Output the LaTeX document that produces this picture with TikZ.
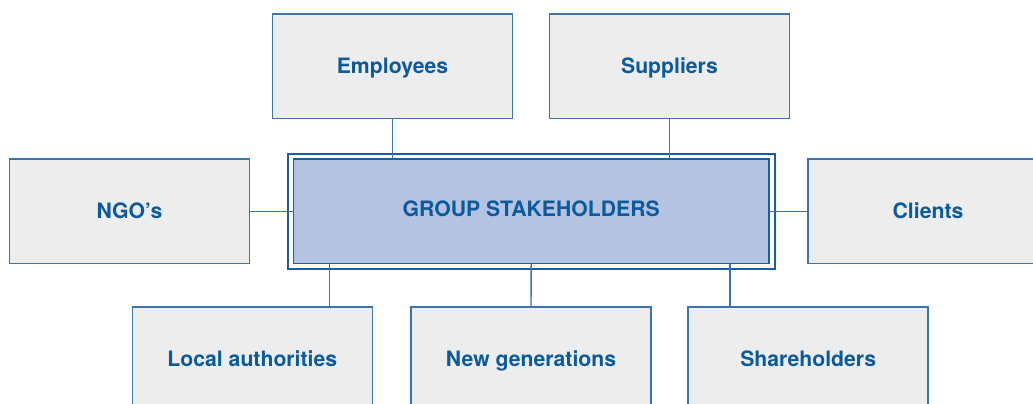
\documentclass[tikz,border=0pt]{standalone}
\usepackage{fontspec}
\setmainfont{TeX Gyre Heros}
\definecolor{boxfill}{HTML}{EDEDED}
\definecolor{boxline}{HTML}{3B75AB}
\definecolor{txt}{HTML}{0B5A9B}
\definecolor{cfill}{HTML}{B4C3E1}
\definecolor{cline}{HTML}{1E5C9C}
\begin{document}
\begin{tikzpicture}[x=1pt,y=-1pt,
  sbox/.style={draw=boxline, line width=1.6pt, fill=boxfill, minimum width=240pt,
    minimum height=104.5pt, inner sep=0pt, text height=15pt, text depth=0.5pt,
    font=\fontsize{21.2}{24}\selectfont\bfseries, text=txt},
  cbox/.style={sbox, draw=cline, line width=1.5pt, fill=cfill, minimum width=475.7pt,
    minimum height=104.3pt, text depth=4pt},
  outerline/.style={draw=cline, line width=2pt},
  link/.style={draw=boxline, line width=1.4pt}]
\useasboundingbox (0,0) rectangle (1033,404);
\clip (0,0) rectangle (1033,404);
\node[cbox] (center) at (531.2,211.2) {GROUP STAKEHOLDERS};
\draw[outerline] ([shift={(-4.8,-4.8)}]center.north west) rectangle ([shift={(4.8,4.8)}]center.south east);
\node[sbox] (emp) at (392.5,66.25) {Employees};
\node[sbox] (sup) at (669.5,66.25) {Suppliers};
\node[sbox] (ngo) at (129.6,211.2) {NGO’s};
\node[sbox] (cli) at (928,211.2) {Clients};
\node[sbox] (loc) at (252.3,359.2) {Local authorities};
\node[sbox] (gen) at (531,359.2) {New generations};
\node[sbox] (sha) at (808.2,359.2) {Shareholders};
\draw[link] (emp.south) -- (emp.south |- center.north);
\draw[link] (sup.south) -- (sup.south |- center.north);
\draw[link] (ngo.east) -- (ngo.east -| center.west);
\draw[link] (cli.west) -- (cli.west -| center.east);
\path (center.south west) ++(37,0) coordinate (a1);
\path (center.south east) ++(-39.7,0) coordinate (a3);
\draw[link] (a1) -- (a1 |- loc.north);
\draw[link] (center.south) -- (gen.north);
\draw[link] (a3) -- (a3 |- sha.north);
\end{tikzpicture}
\end{document}
